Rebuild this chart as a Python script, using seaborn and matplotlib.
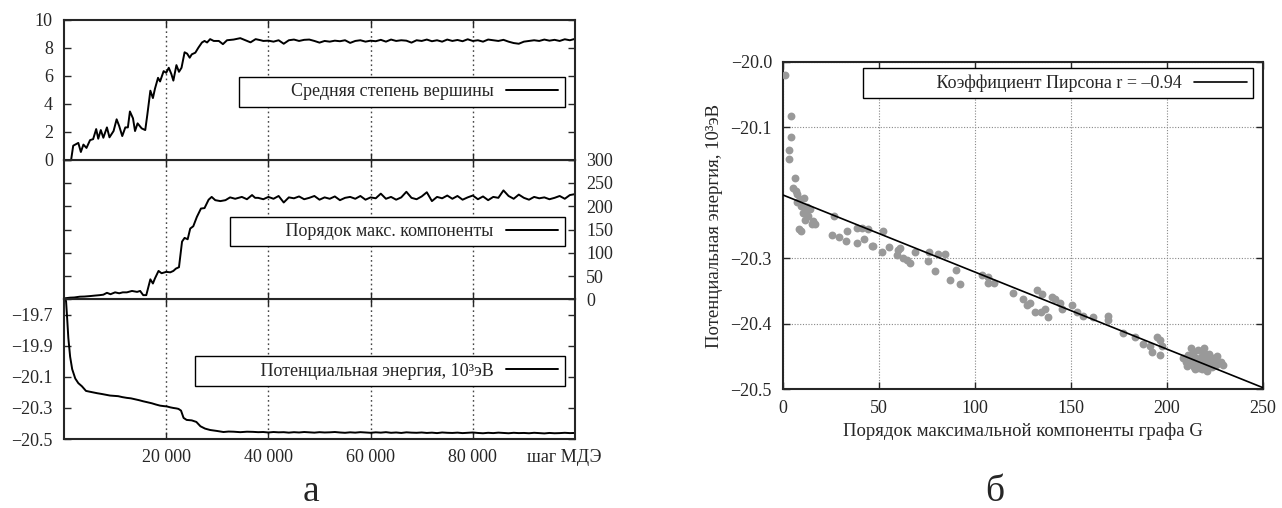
import matplotlib
matplotlib.use("Agg")
import matplotlib.pyplot as plt
import seaborn as sns
import pandas as pd

# ---- panel a: time series (step of MD) ----
deg_step = [1400, 1800, 2800, 3300, 3800, 4400, 5100, 5700, 6300, 6700, 7200, 7700,
            8400, 8900, 9700, 10300, 10800, 11400, 12000, 12500, 12900, 13500, 13900,
            14400, 15200, 15900, 16300, 16900, 17400, 17800, 18400, 18800, 19500,
            20000, 20500, 21000, 21400, 22000, 22500, 23000, 23600, 24100, 24600,
            25000, 25700, 26300, 27000, 27500, 28000, 28600, 29300, 30300, 31100,
            31900, 33200, 34500, 35500, 36500, 37500, 38500] + list(range(39000, 100001, 1000))
deg_val = [0.0, 1.0, 1.2, 0.55, 1.08, 0.84, 1.4, 1.47, 2.19, 1.5, 2.12, 1.57,
           2.31, 1.6, 2.05, 2.89, 2.41, 1.69, 2.31, 2.31, 3.45, 2.96, 2.05,
           2.6, 2.24, 2.12, 3.2, 4.94, 4.41, 5.08, 5.86, 5.6, 6.34,
           6.22, 6.58, 6.14, 5.66, 6.77, 6.29, 6.58, 7.69, 7.59, 7.3,
           7.54, 7.66, 8.02, 8.39, 8.5, 8.39, 8.63, 8.5, 8.5, 8.27,
           8.55, 8.6, 8.7, 8.55, 8.4, 8.63, 8.55,
           8.5, 8.52, 8.45, 8.55, 8.3, 8.55, 8.6, 8.5, 8.58, 8.6, 8.5, 8.38,
           8.5, 8.45, 8.52, 8.48, 8.55, 8.36, 8.5, 8.55, 8.45, 8.52, 8.48, 8.58,
           8.45, 8.6, 8.5, 8.55, 8.52, 8.38, 8.55, 8.5, 8.6, 8.48, 8.55, 8.45,
           8.6, 8.5, 8.57, 8.48, 8.62, 8.5, 8.55, 8.45, 8.6, 8.55, 8.5, 8.58,
           8.45, 8.35, 8.3, 8.45, 8.5, 8.55, 8.5, 8.6, 8.52, 8.58, 8.5, 8.62,
           8.55, 8.65]

comp_step = [0, 1200, 2000, 3100, 4000, 5100, 6000, 7000, 7700, 8400, 9100, 10000,
             10800, 11500, 12300, 13300, 14300, 14900, 15500, 16100, 16900, 17400,
             17800, 18500, 19100, 20000, 20800, 21400, 21900, 22500, 23100, 23600,
             24200, 24700, 25300, 26000, 26800, 27500, 28300, 28900, 29600, 30600,
             31600, 32500, 33500, 34800, 35800, 36800, 37400] + list(range(38000, 100001, 1000))
comp_val = [2, 3.6, 4, 5.7, 6, 7, 8, 9, 10, 14, 11, 15,
            13, 15, 15, 18, 16, 18, 9, 9, 43, 34,
            45, 61, 56, 59, 58, 61, 66, 69, 124, 132,
            129, 152, 157, 177, 195, 196, 214, 220, 213, 211,
            213, 219, 216, 220, 215, 224, 218,
            218, 215, 220, 216, 222, 208, 219, 217, 221, 215, 218, 222, 214,
            219, 216, 221, 213, 218, 220, 216, 222, 214, 219, 217, 227, 216,
            220, 214, 219, 231, 218, 215, 221, 230, 211, 220, 217, 223, 216,
            222, 214, 219, 223, 215, 221, 213, 220, 218, 234, 222, 216, 225,
            218, 214, 220, 217, 219, 215, 218, 222, 216, 224, 226]

en_step = [0, 400, 650, 850, 1200, 1600, 2200, 2800, 3500, 4300, 5000, 5750, 6500,
           7400, 8200, 9000, 9800, 10600, 11400, 12300, 13100, 13900, 14700, 15500,
           16300, 17200, 18000, 18800, 19500, 20100, 20800, 21400, 22000, 22400,
           22900, 23400, 24000, 25000, 25900, 26700, 27600, 28600, 29900, 31200,
           32200, 33200, 34500, 35800] + list(range(37000, 100001, 1000))
en_val = [-19.60, -19.61, -19.74, -19.85, -19.97, -20.05, -20.11, -20.14, -20.16,
          -20.19, -20.195, -20.20, -20.205, -20.21, -20.215, -20.22, -20.222, -20.224,
          -20.23, -20.235, -20.238, -20.244, -20.25, -20.257, -20.263, -20.27, -20.278,
          -20.285, -20.288, -20.29, -20.296, -20.30, -20.303, -20.306, -20.317, -20.364,
          -20.377, -20.38, -20.39, -20.418, -20.433, -20.442, -20.448, -20.455, -20.452,
          -20.453, -20.456, -20.453,
          -20.454, -20.456, -20.455, -20.458, -20.455, -20.457, -20.456, -20.459,
          -20.456, -20.458, -20.455, -20.457, -20.459, -20.456, -20.458, -20.457,
          -20.455, -20.458, -20.46, -20.457, -20.459, -20.456, -20.458, -20.46,
          -20.457, -20.459, -20.456, -20.46, -20.458, -20.461, -20.457, -20.459,
          -20.46, -20.458, -20.461, -20.459, -20.462, -20.458, -20.46, -20.461,
          -20.459, -20.462, -20.46, -20.458, -20.461, -20.463, -20.46, -20.462,
          -20.459, -20.461, -20.463, -20.46, -20.462, -20.461, -20.463, -20.46,
          -20.462, -20.464, -20.461, -20.463, -20.462, -20.46, -20.462, -20.461]

x_ticks = [20000, 40000, 60000, 80000]
x_tick_labels = ["20 000", "40 000", "60 000", "80 000"]

# ---- panel б: scatter ----
order_g = [1.0, 4.0, 4.0, 3.3, 3.3, 6.2, 5.4, 6.6, 7.5, 8.9, 7.3, 10.9, 9.5, 12.3,
           14.0, 10.2, 11.5, 15.8, 16.7, 15.0, 8.5, 9.2, 13.0, 12.0,
           26.6, 25.7, 29.2, 33.5, 32.6, 38.4, 41.0, 44.4, 38.4, 42.2, 46.5, 52.3,
           51.7, 47.0, 55.0, 60.0, 60.9, 59.2, 62.6, 66.1, 68.7, 64.5, 75.7, 76.2,
           80.9, 84.4, 79.2, 90.3, 87.2, 92.4, 103.7, 106.6, 109.7, 107.0, 120.0,
           125.2, 127.0, 128.7, 131.3, 132.5, 134.7, 134.2, 136.5, 138.2, 139.9,
           141.7, 144.3, 145.1, 150.3, 153.3, 156.4, 161.3, 169.1, 169.1, 177.3,
           183.3, 187.7, 191.1, 192.0, 194.6, 196.4, 197.2, 196.4,
           208.5, 210.0, 211.0, 212.0, 213.0, 213.5, 214.0, 215.0, 215.5, 216.0,
           216.5, 217.0, 217.5, 218.0, 218.5, 219.0, 219.5, 220.0, 220.5, 221.0,
           221.5, 222.0, 222.5, 223.0, 223.5, 224.0, 224.5, 225.0, 225.5, 226.0,
           227.0, 228.0, 229.0, 212.5, 219.5, 214.5, 218.0, 221.0, 210.5, 216.0]
energy = [-20.02, -20.082, -20.114, -20.135, -20.149, -20.177, -20.193, -20.198,
          -20.202, -20.21, -20.214, -20.208, -20.22, -20.222, -20.225, -20.231,
          -20.242, -20.243, -20.248, -20.247, -20.256, -20.259, -20.236, -20.228,
          -20.235, -20.264, -20.268, -20.258, -20.274, -20.254, -20.254, -20.256,
          -20.277, -20.271, -20.282, -20.258, -20.29, -20.282, -20.283, -20.287,
          -20.285, -20.295, -20.30, -20.308, -20.29, -20.303, -20.304, -20.29,
          -20.294, -20.293, -20.32, -20.318, -20.334, -20.34, -20.326, -20.328,
          -20.338, -20.338, -20.353, -20.363, -20.372, -20.369, -20.382, -20.348,
          -20.354, -20.382, -20.377, -20.39, -20.359, -20.363, -20.369, -20.377,
          -20.372, -20.382, -20.388, -20.39, -20.389, -20.394, -20.414, -20.42,
          -20.431, -20.434, -20.443, -20.421, -20.425, -20.434, -20.448,
          -20.452, -20.458, -20.448, -20.462, -20.455, -20.445, -20.466, -20.452,
          -20.46, -20.44, -20.468, -20.455, -20.462, -20.45, -20.466, -20.457,
          -20.445, -20.463, -20.452, -20.468, -20.458, -20.447, -20.462, -20.455,
          -20.466, -20.452, -20.46, -20.456, -20.464, -20.45, -20.46, -20.458,
          -20.463, -20.438, -20.438, -20.47, -20.47, -20.472, -20.465, -20.458]
pearson_label = "Коэффициент Пирсона r = –0.94"

sns.set_style("ticks")
plt.rcParams["font.family"] = ["Liberation Serif", "DejaVu Serif"]
plt.rcParams["font.size"] = 13
plt.rcParams["axes.linewidth"] = 1.5

fig = plt.figure(figsize=(12.82, 5.08), dpi=100)

W, H = 1282, 508
lx, rx = 64 / W, (575 - 64) / W
ph = (439 - 20) / 3 / H
ax_en = fig.add_axes([lx, 1 - 439 / H, rx, ph])
ax_comp = fig.add_axes([lx, 1 - 439 / H + ph, rx, ph], sharex=ax_en)
ax_deg = fig.add_axes([lx, 1 - 439 / H + 2 * ph, rx, ph], sharex=ax_en)


def boxed_legend(ax, handles, labels, pad_spaces, anchor):
    leg = ax.legend(handles, [" " * pad_spaces + s for s in labels],
                    loc="upper right", bbox_to_anchor=anchor, borderaxespad=0,
                    markerfirst=False, fancybox=False, framealpha=1,
                    edgecolor="black", handlelength=2.9, handletextpad=0.7,
                    borderpad=0.35, fontsize=13)
    leg.get_frame().set_linewidth(1.0)


series = [
    (ax_deg, deg_step, deg_val, "Средняя степень вершины", 10),
    (ax_comp, comp_step, comp_val, "Порядок макс. компоненты", 11),
    (ax_en, en_step, en_val, "Потенциальная энергия, 10³эВ", 13),
]
for ax, xs, ys, lab, sp in series:
    sns.lineplot(x=xs, y=ys, ax=ax, color="black", lw=1.4, label=lab)
    h, l = ax.get_legend_handles_labels()
    boxed_legend(ax, h, l, sp, (0.98, 1 - 57 / 140))
    ax.xaxis.grid(True, ls=(0, (1.2, 2.2)), color="#444444", lw=1.0)
    ax.tick_params(direction="in", length=5, width=1, top=True, bottom=True,
                   left=True, right=True, pad=8)
    ax.set_xlim(0, 100000)

ax_en.set_xticks(x_ticks, x_tick_labels)
ax_en.set_xticks([97800], ["шаг МДЭ"], minor=True)
for ax in (ax_deg, ax_comp):
    ax.tick_params(axis="x", which="both", labelbottom=False)
ax_en.tick_params(axis="x", which="both", labelbottom=True, pad=7)
for ax in (ax_deg, ax_comp, ax_en):
    ax.tick_params(axis="x", which="minor", length=0, top=False)

ax_deg.set_ylim(0, 10)
ax_deg.set_yticks([0, 2, 4, 6, 8, 10])
ax_deg.tick_params(axis="y", labelleft=True, labelright=False)

ax_comp.set_ylim(0, 300)
ax_comp.set_yticks([0, 50, 100, 150, 200, 250, 300])
ax_comp.tick_params(axis="y", labelleft=False, labelright=True)

ax_en.set_ylim(-20.5, -19.6)
en_ticks = [-20.5, -20.3, -20.1, -19.9, -19.7]
ax_en.set_yticks(en_ticks, [f"{v:.1f}".replace("-", "\u2212") for v in en_ticks])

# ---- panel б ----
ax_sc = fig.add_axes([783 / W, 1 - 389 / H, (1263 - 783) / W, (389 - 62) / H])
ax_sc.set_xlim(0, 250)
ax_sc.set_ylim(-20.5, -20.0)
sns.scatterplot(x=order_g, y=energy, ax=ax_sc, color="#999999", s=32,
                linewidth=0, zorder=3)
sns.regplot(x=order_g, y=energy, ax=ax_sc, scatter=False, ci=None,
            truncate=False, color="black", line_kws={"lw": 1.2, "zorder": 4})
fit_line = ax_sc.lines[-1]
ax_sc.set_xlim(0, 250)
ax_sc.set_ylim(-20.5, -20.0)
ax_sc.set_xticks([0, 50, 100, 150, 200, 250])
sc_ticks = [-20.0, -20.1, -20.3, -20.4, -20.5]
ax_sc.set_yticks(sc_ticks, [f"{v:.1f}".replace("-", "\u2212") for v in sc_ticks])
ax_sc.grid(True, ls=(0, (1, 1.5)), color="#888888", lw=0.8)
ax_sc.tick_params(direction="in", length=5, width=1, top=True, right=True, pad=8)
ax_sc.set_xlabel("Порядок максимальной компоненты графа G", fontsize=13.5, labelpad=4)
ax_sc.set_ylabel("Потенциальная энергия, 10³эВ", fontsize=13.5, labelpad=5)
boxed_legend(ax_sc, [fit_line], [pearson_label], 15, (1 - 10 / 480, 1 - 6 / 327))

fig.text(311 / W, 7 / H, "а", fontsize=27, ha="center", va="baseline")
fig.text(995 / W, 7 / H, "б", fontsize=27, ha="center", va="baseline")

fig.savefig("out.png", dpi=100)
